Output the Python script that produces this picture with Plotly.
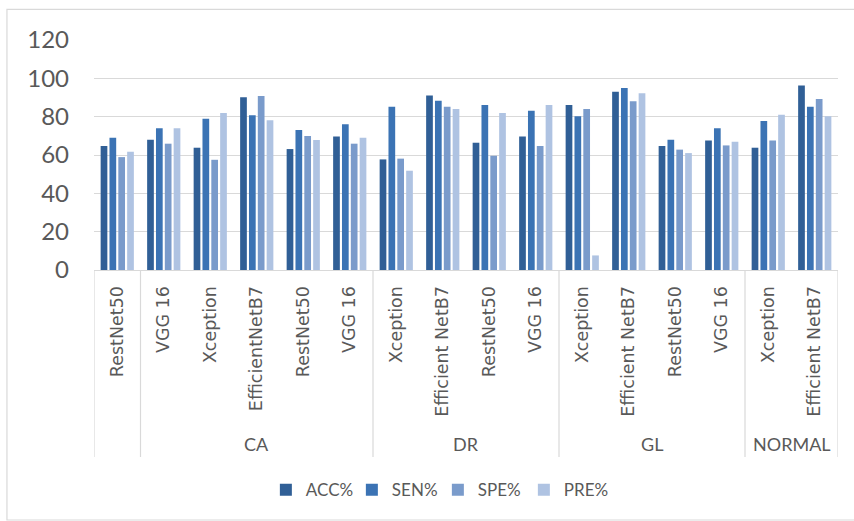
import plotly.graph_objects as go

# Model names (inner axis level) and their disease group (outer level)
models = ["RestNet50", "VGG 16", "Xception", "EfficientNetB7", "RestNet50", "VGG 16",
          "Xception", "Efficient NetB7", "RestNet50", "VGG 16",
          "Xception", "Efficient NetB7", "RestNet50", "VGG 16",
          "Xception", "Efficient NetB7"]
groups = ["", "CA", "CA", "CA", "CA", "CA",
          "DR", "DR", "DR", "DR",
          "GL", "GL", "GL", "GL",
          "NORMAL", "NORMAL"]

acc = [64.7, 68.0, 63.8, 90.1, 63.1, 69.7, 57.7, 91.1, 66.4, 69.7, 86.1, 93.0, 64.7, 67.6, 63.8, 96.3]
sen = [69.0, 73.9, 78.9, 80.7, 73.0, 76.0, 85.2, 88.3, 86.1, 83.1, 80.2, 94.9, 68.0, 73.9, 77.7, 85.2]
spe = [58.9, 65.9, 57.5, 90.8, 69.9, 65.9, 58.1, 85.2, 59.6, 64.7, 84.0, 88.0, 62.8, 65.0, 67.6, 89.2]
pre = [61.7, 73.9, 81.9, 78.1, 67.8, 69.0, 51.8, 84.0, 81.9, 86.1, 7.6, 92.2, 61.0, 66.9, 81.0, 80.2]

series = [("ACC%", acc, "#305F96"), ("SEN%", sen, "#3B73B4"),
          ("SPE%", spe, "#7A9BCB"), ("PRE%", pre, "#AFC3E2")]

y_ticks = [0, 20, 40, 60, 80, 100, 120]

xpos = list(range(len(models)))
GRID = "#d9d9d9"
TXT = "#595959"

fig = go.Figure()
for name, vals, color in series:
    fig.add_trace(go.Bar(x=xpos, y=vals, name=name, marker=dict(color=color, line_width=0)))

# Group spans on the outer category level
spans = []
start = 0
for i in range(1, len(groups) + 1):
    if i == len(groups) or groups[i] != groups[start]:
        spans.append((groups[start], start, i - 1))
        start = i

div_bottom = -0.813
shapes = []
for _, a, b in spans:
    shapes.append(dict(type="line", xref="x", yref="paper", x0=a - 0.5, x1=a - 0.5,
                       y0=0, y1=div_bottom, line=dict(color=GRID, width=1.2)))
shapes.append(dict(type="line", xref="x", yref="paper", x0=len(models) - 0.5, x1=len(models) - 0.5,
                   y0=0, y1=div_bottom, line=dict(color=GRID, width=1.2)))
# Chart frame (right edge runs past the page)
shapes.append(dict(type="rect", xref="paper", yref="paper", x0=-0.117, x1=1.2,
                   y0=-1.087, y1=1.133, line=dict(color=GRID, width=1.2), layer="below"))

annotations = []
for g, a, b in spans:
    if g:
        annotations.append(dict(x=(a + b) / 2, y=-0.757, xref="x", yref="paper", text=g,
                                xanchor="center", yanchor="middle",
                                showarrow=False, font=dict(family="Lato", size=18, color=TXT)))

fig.update_layout(
    width=854, height=521,
    margin=dict(l=94, r=16, t=40, b=251),
    paper_bgcolor="white", plot_bgcolor="white",
    barmode="group", bargap=0.24, bargroupgap=0.24,
    shapes=shapes, annotations=annotations,
    showlegend=True,
    legend=dict(orientation="h", x=0.231, xanchor="left", y=-0.957, yanchor="middle",
                font=dict(family="Lato", size=17, color=TXT), entrywidth=41,
                traceorder="normal"),
    xaxis=dict(range=[-0.5, len(models) - 0.5], tickmode="array", tickvals=xpos,
               ticktext=models, tickangle=-90, showgrid=False, zeroline=False,
               showline=True, linecolor=GRID, linewidth=1.2, ticks="",
               ticklabelstandoff=8,
               tickfont=dict(family="DejaVu Sans", size=17.5, color=TXT)),
    yaxis=dict(range=[0, 120], tickmode="array", tickvals=y_ticks, showgrid=True,
               gridcolor=GRID, gridwidth=1.2, zeroline=False, showline=False,
               ticks="", ticklabelstandoff=24,
               tickfont=dict(family="Lato", size=24, color=TXT)),
)

fig.write_html("out.html")
